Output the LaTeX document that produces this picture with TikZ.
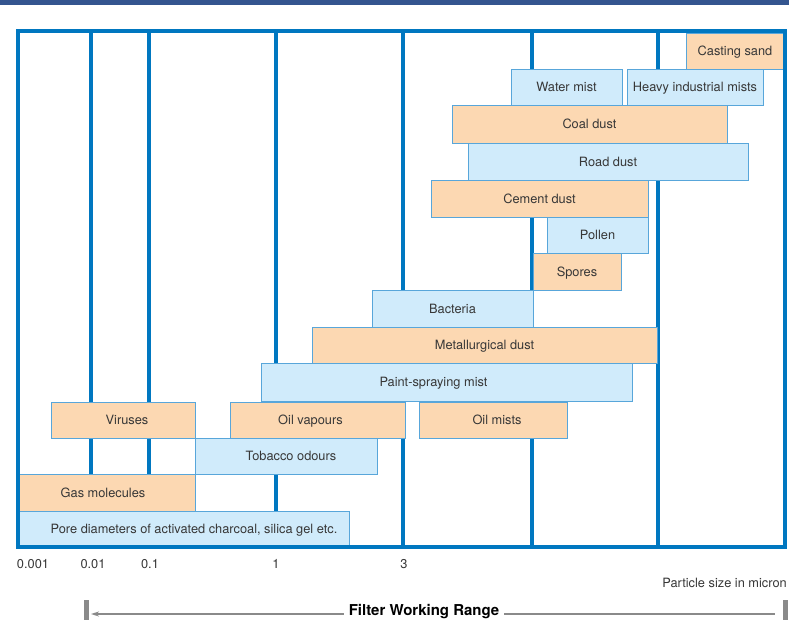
\documentclass[tikz,border=0pt]{standalone}
\usepackage{fontspec}
\setmainfont{TeX Gyre Heros}
\usepackage{xcolor}
\usepackage{tikz}
\usetikzlibrary{arrows.meta, positioning}

\definecolor{framebl}{RGB}{0,119,192}
\definecolor{topbar}{RGB}{52,85,143}
\definecolor{dustfill}{RGB}{252,216,178}
\definecolor{mistfill}{RGB}{208,235,251}
\definecolor{barline}{RGB}{88,166,218}
\definecolor{labtext}{RGB}{55,55,55}
\definecolor{rangegray}{RGB}{138,138,138}

\begin{document}
\begin{tikzpicture}[
  x=1pt, y=-1pt,
  font=\fontsize{12.8}{15}\selectfont, text=labtext,
  bar/.style={draw=barline, line width=0.8pt, anchor=north west, inner sep=0pt, outer sep=0pt, text depth=0pt},
  dustbox/.style={bar, fill=dustfill},
  mistbox/.style={bar, fill=mistfill},
  gridline/.style={draw=framebl, line width=3.2pt},
  rangeline/.style={draw=rangegray, line width=1.5pt}
]
\useasboundingbox (0,0) rectangle (789,620);
\fill[topbar] (0,0) rectangle (789,5);

% grid
\foreach \x in {91,149,276,403,532,658}
  \draw[gridline] (\x,31) -- (\x,547);

% particle ranges
\node [dustbox, minimum width=98pt, minimum height=36pt] (casting) at (686,33) {Casting sand};
\node [mistbox, minimum width=111pt, minimum height=36pt] (water) at (511,69) {Water mist};
\node [mistbox, minimum width=136pt, minimum height=36pt] (heavy) at (627,69) {Heavy industrial mists};
\node [dustbox, minimum width=275pt, minimum height=38pt] (coal) at (452,105) {Coal dust};
\node [mistbox, minimum width=280pt, minimum height=37pt] (road) at (468,143) {Road dust};
\node [dustbox, minimum width=217pt, minimum height=37pt] (cement) at (431,180) {Cement dust};
\node [mistbox, minimum width=101pt, minimum height=36pt] (pollen) at (547,217) {Pollen};
\node [dustbox, minimum width=88pt, minimum height=37pt] (spores) at (533,253) {Spores};
\node [mistbox, minimum width=161pt, minimum height=37pt] (bacteria) at (372,290) {Bacteria};
\node [dustbox, minimum width=345pt, minimum height=36pt] (metal) at (312,327) {Metallurgical dust};
\node [mistbox, minimum width=371pt, minimum height=38pt] (paint) at (261,363) {Paint-spraying mist\kern26pt};
\node [dustbox, minimum width=144pt, minimum height=36pt] (viruses) at (51,402) {\kern8pt Viruses};
\node [dustbox, minimum width=175pt, minimum height=36pt] (oilvap) at (230,402) {Oil vapours\kern14pt};
\node [dustbox, minimum width=148pt, minimum height=36pt] (oilmist) at (419,402) {\kern8pt Oil mists};
\node [mistbox, minimum width=182pt, minimum height=36pt] (tobacco) at (195,438) {\kern10pt Tobacco odours};
\node [dustbox, minimum width=176pt, minimum height=37pt] (gas) at (19,474) {Gas molecules\kern8pt};
\node [mistbox, minimum width=330pt, minimum height=35pt] (pore) at (19,511) {\kern20pt Pore diameters of activated charcoal, silica gel etc.};

% frame
\draw[framebl, line width=4.2pt] (18,31) rectangle (785,547);

% axis
\foreach \x/\lab in {33/0.001, 93/0.01, 150/0.1, 276/1, 404/3}
  \node (tick\lab) at (\x,564) {\lab};
\node [anchor=east, inner sep=0pt] (unit) at (787,583) {Particle size in micron};

% filter working range
\node [font=\fontsize{15}{17}\selectfont\bfseries, text=black, inner sep=5pt] (range) at (424,612) {Filter Working Range};
\coordinate (rangeL) at (91,614);
\coordinate (rangeR) at (775,614);
\draw[rangeline, -{Stealth[length=8pt, width=5pt]}] (range.west |- rangeL) -- (rangeL);
\draw[rangeline] (range.east |- rangeR) -- (rangeR);
\draw[rangegray, line width=5pt] (86,600) -- (86,620);
\draw[rangegray, line width=5pt] (785,600) -- (785,620);
\end{tikzpicture}
\end{document}
